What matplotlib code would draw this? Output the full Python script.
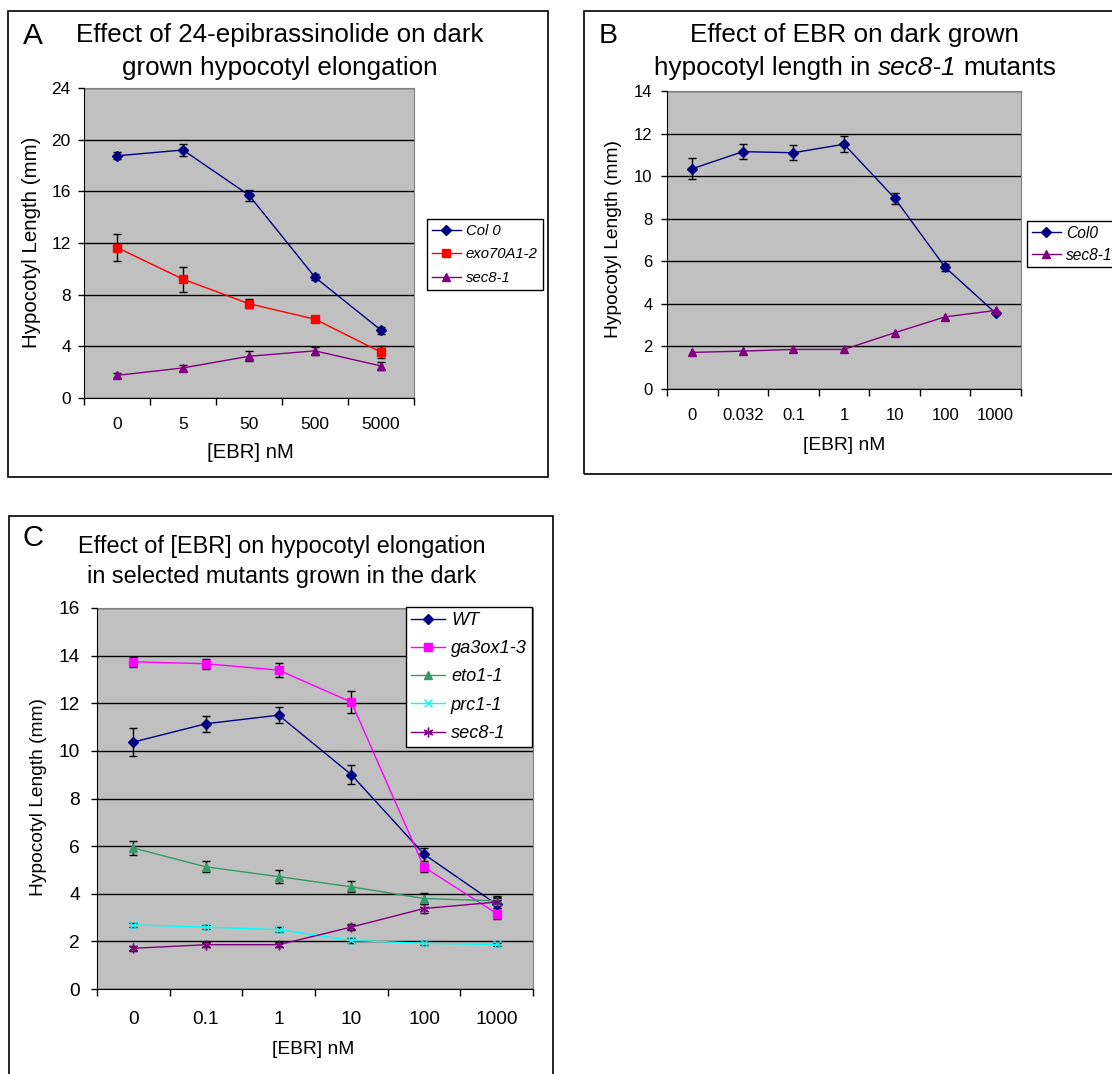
import numpy as np
import matplotlib
matplotlib.use("Agg")
import matplotlib.pyplot as plt
from matplotlib.patches import Rectangle

plt.rcParams['font.family'] = ['Liberation Sans', 'DejaVu Sans']

W, H = 1112, 1074

# --- Panel A : Col 0 / exo70A1-2 / sec8-1
a_doses = ["0", "5", "50", "500", "5000"]
a_col0 = [18.75, 19.2, 15.7, 9.35, 5.25]
a_col0_err = [0.26, 0.5, 0.42, 0.23, 0.26]
a_exo = [11.65, 9.2, 7.3, 6.1, 3.55]
a_exo_err = [1.05, 0.96, 0.35, 0.2, 0.44]
a_sec8 = [1.75, 2.33, 3.23, 3.65, 2.48]
a_sec8_err = [0.2, 0.26, 0.4, 0.33, 0.32]

# --- Panel B : Col0 / sec8-1
b_doses = ["0", "0.032", "0.1", "1", "10", "100", "1000"]
b_col0 = [10.35, 11.15, 11.1, 11.5, 8.97, 5.72, 3.56]
b_col0_err = [0.5, 0.35, 0.34, 0.38, 0.26, 0.16, 0.05]
b_sec8 = [1.72, 1.78, 1.86, 1.86, 2.64, 3.39, 3.69]

# --- Panel C : selected mutants
c_doses = ["0", "0.1", "1", "10", "100", "1000"]
c_wt = [10.37, 11.14, 11.5, 9.0, 5.66, 3.55]
c_wt_err = [0.57, 0.34, 0.34, 0.4, 0.27, 0.26]
c_ga3 = [13.74, 13.66, 13.39, 12.05, 5.12, 3.17]
c_ga3_err = [0.21, 0.21, 0.29, 0.45, 0.19, 0.22]
c_eto = [5.92, 5.13, 4.72, 4.29, 3.8, 3.7]
c_eto_err = [0.29, 0.23, 0.26, 0.23, 0.25, 0.15]
c_prc = [2.69, 2.6, 2.49, 2.04, 1.92, 1.87]
c_prc_err = [0.1, 0.08, 0.1, 0.1, 0.08, 0.08]
c_sec8 = [1.71, 1.86, 1.86, 2.6, 3.38, 3.65]
c_sec8_err = [0.1, 0.1, 0.1, 0.12, 0.2, 0.25]

NAVY, RED, PURPLE = "#000080", "#FF0000", "#800080"
MAGENTA, GREEN, CYAN = "#FF00FF", "#339966", "#00FFFF"
STAR = (6, 2, 0)

fig = plt.figure(figsize=(W / 100, H / 100), dpi=100)
renderer = fig.canvas.get_renderer()


def px_rect(l, t, r, b):
    return [l / W, 1 - b / H, (r - l) / W, (b - t) / H]


def ftext(x, y, s, **kw):
    return fig.text(x / W, 1 - y / H, s, **kw)


def panel_box(l, t, r, b):
    fig.add_artist(Rectangle((l / W, 1 - b / H), (r - l) / W, (b - t) / H,
                             transform=fig.transFigure, fill=False,
                             ec="black", lw=1.2))


def title_line(cx, cy, pieces, size):
    """pieces: list of (text, style); centred on cx, words joined by a space"""
    texts = [ftext(0, cy, s, fontsize=size, style=st, va="center", ha="left")
             for s, st in pieces]
    probe1 = ftext(0, 0, "a a", fontsize=size)
    probe2 = ftext(0, 0, "aa", fontsize=size)
    gap = probe1.get_window_extent(renderer).width - probe2.get_window_extent(renderer).width
    probe1.remove()
    probe2.remove()
    widths = [t.get_window_extent(renderer).width for t in texts]
    total = sum(widths) + gap * (len(texts) - 1)
    x = cx - total / 2
    for t, w in zip(texts, widths):
        t.set_x(x / W)
        x += w + gap


def setup_axes(ax, doses, ymax, ystep, tick_fs, xpad, ypad):
    n = len(doses)
    ax.set_facecolor("#C0C0C0")
    ax.set_xlim(-0.5, n - 0.5)
    ax.set_ylim(0, ymax)
    ax.set_yticks(np.arange(0, ymax + 0.1, ystep))
    ax.set_xticks(range(n), doses)
    ax.set_xticks(np.arange(n + 1) - 0.5, minor=True)
    ax.tick_params(axis="x", which="major", length=0, pad=xpad, labelsize=tick_fs)
    ax.tick_params(axis="x", which="minor", length=5, width=1, direction="out")
    ax.tick_params(axis="y", length=4.5, width=1, direction="out", pad=ypad,
                   labelsize=tick_fs)
    ax.grid(axis="y", color="black", lw=1)
    ax.set_axisbelow(True)
    for side in ("top", "right"):
        ax.spines[side].set_color("#808080")
    for side in ("left", "bottom"):
        ax.spines[side].set_color("black")
        ax.spines[side].set_zorder(4)


def series(ax, y, err, color, marker, label, ms=5, mew=1):
    x = np.arange(len(y))
    if err is not None:
        ax.errorbar(x, y, yerr=err, fmt="none", ecolor="black", elinewidth=1,
                    capsize=3, capthick=1, zorder=3)
    ax.plot(x, y, color=color, marker=marker, markersize=ms, markeredgewidth=mew,
            lw=1, label=label, zorder=4)


def legend(ax, l, t, size, **kw):
    leg = ax.legend(loc="upper left", bbox_to_anchor=(l / W, 1 - t / H),
                    bbox_transform=fig.transFigure, borderaxespad=0,
                    fancybox=False, framealpha=1, edgecolor="black",
                    prop={"style": "italic", "size": size}, **kw)
    leg.get_frame().set_linewidth(1)
    return leg


# ---------------- Panel A
panel_box(8, 11, 548, 477)
axA = fig.add_axes(px_rect(84, 88, 414, 398))
setup_axes(axA, a_doses, 24, 4, 12.5, 13.5, 5)
series(axA, a_col0, a_col0_err, NAVY, "D", "Col 0", ms=5)
series(axA, a_exo, a_exo_err, RED, "s", "exo70A1-2", ms=5.5)
series(axA, a_sec8, a_sec8_err, PURPLE, "^", "sec8-1", ms=6)
legend(axA, 427, 219, 10.7, handlelength=1.95, handletextpad=0.35,
       labelspacing=0.65, borderpad=0.32)
ftext(23, 36, "A", fontsize=21.5, va="center", ha="left")
title_line(280, 35, [("Effect of 24-epibrassinolide on dark", "normal")], 18.7)
title_line(280, 68, [("grown hypocotyl elongation", "normal")], 18.7)
ftext(32, 242, "Hypocotyl Length (mm)", fontsize=14.8, rotation=90,
      va="center", ha="center")
ftext(250, 453, "[EBR] nM", fontsize=14.6, va="center", ha="center")

# ---------------- Panel B
panel_box(584, 11, 1130, 474)
axB = fig.add_axes(px_rect(667, 91, 1021, 389))
setup_axes(axB, b_doses, 14, 2, 12, 13.5, 6)
series(axB, b_col0, b_col0_err, NAVY, "D", "Col0", ms=5)
series(axB, b_sec8, None, PURPLE, "^", "sec8-1", ms=6)
legend(axB, 1027, 221, 11.2, handlelength=1.86, handletextpad=0.33,
       labelspacing=0.45, borderpad=0.3)
ftext(599, 36, "B", fontsize=20.5, va="center", ha="left")
title_line(855, 35, [("Effect of EBR on dark grown", "normal")], 18.8)
title_line(855, 68, [("hypocotyl length in", "normal"), ("sec8-1", "italic"),
                     ("mutants", "normal")], 18.8)
ftext(613, 239, "Hypocotyl Length (mm)", fontsize=13.8, rotation=90,
      va="center", ha="center")
ftext(844, 445, "[EBR] nM", fontsize=13.8, va="center", ha="center")

# ---------------- Panel C
panel_box(9, 516, 553, 1090)
axC = fig.add_axes(px_rect(97, 608, 533, 989))
setup_axes(axC, c_doses, 16, 2, 13.8, 15.5, 8)
series(axC, c_wt, c_wt_err, NAVY, "D", "WT", ms=5)
series(axC, c_ga3, c_ga3_err, MAGENTA, "s", "ga3ox1-3", ms=5.5)
series(axC, c_eto, c_eto_err, GREEN, "^", "eto1-1", ms=6)
series(axC, c_prc, c_prc_err, CYAN, "x", "prc1-1", ms=6, mew=1)
series(axC, c_sec8, c_sec8_err, PURPLE, STAR, "sec8-1", ms=7, mew=1)
legend(axC, 406, 607, 13.1, handlelength=1.87, handletextpad=0.33,
       labelspacing=0.62, borderpad=0.27)
ftext(23, 538, "C", fontsize=21, va="center", ha="left")
title_line(282, 546, [("Effect of [EBR] on hypocotyl elongation", "normal")], 16.9)
title_line(282, 576, [("in selected mutants grown in the dark", "normal")], 16.9)
ftext(39, 797, "Hypocotyl Length (mm)", fontsize=13.8, rotation=90,
      va="center", ha="center")
ftext(313, 1050, "[EBR] nM", fontsize=13.8, va="center", ha="center")

fig.savefig("out.png", dpi=100)
